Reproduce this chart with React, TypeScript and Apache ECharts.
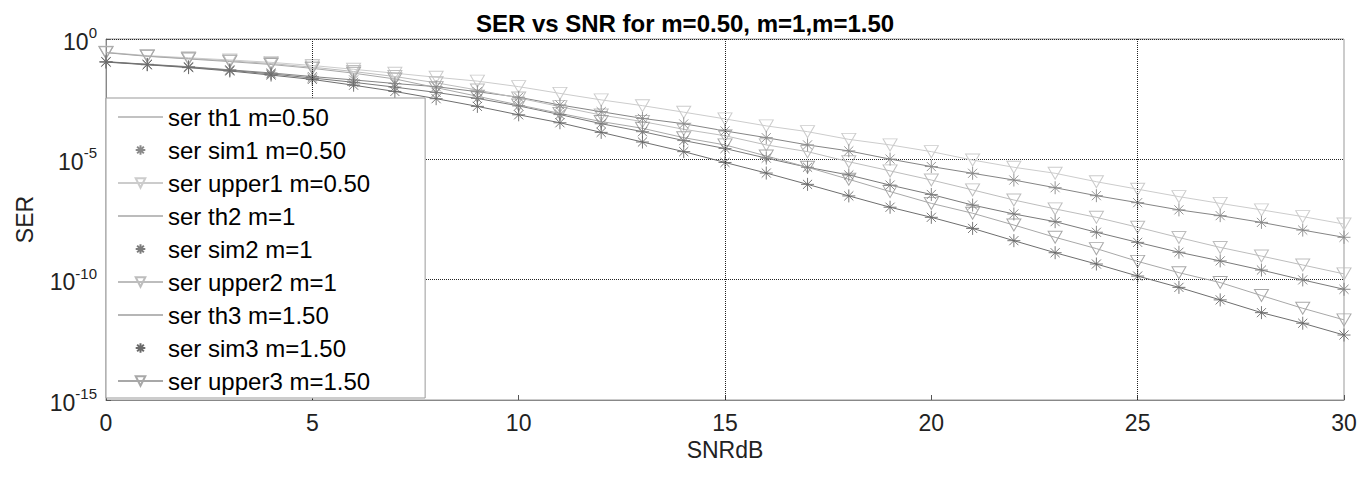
import React, { useEffect, useRef } from "react";
import * as echarts from "echarts";

const snrDb = [0, 1, 2, 3, 4, 5, 6, 7, 8, 9, 10, 11, 12, 13, 14, 15, 16, 17, 18, 19, 20, 21, 22, 23, 24, 25, 26, 27, 28, 29, 30];

// log10(SER)
const th1Log = [-0.94, -1.05, -1.15, -1.28, -1.41, -1.56, -1.7, -1.85, -1.98, -2.19, -2.42, -2.74, -3.02, -3.3, -3.52, -3.82, -4.1, -4.4, -4.65, -4.99, -5.3, -5.58, -5.86, -6.18, -6.51, -6.8, -7.1, -7.34, -7.62, -7.94, -8.24];
const sim1Log = [-0.94, -1.05, -1.15, -1.28, -1.41, -1.56, -1.7, -1.85, -1.98, -2.19, -2.42, -2.74, -3.02, -3.3, -3.53, -3.82, -4.1, -4.4, -4.65, -4.99, -5.3, -5.58, -5.86, -6.18, -6.51, -6.8, -7.1, -7.34, -7.62, -7.94, -8.24];
const upper1Log = [-0.55, -0.69, -0.78, -0.87, -0.97, -1.1, -1.26, -1.42, -1.59, -1.75, -1.98, -2.26, -2.53, -2.77, -3.04, -3.32, -3.61, -3.85, -4.17, -4.4, -4.68, -5.03, -5.33, -5.58, -5.93, -6.24, -6.55, -6.83, -7.1, -7.38, -7.69];
const th2Log = [-0.95, -1.06, -1.17, -1.3, -1.45, -1.62, -1.8, -2.0, -2.22, -2.47, -2.78, -3.14, -3.52, -3.85, -4.22, -4.55, -4.95, -5.33, -5.65, -6.07, -6.46, -6.9, -7.27, -7.59, -8.03, -8.45, -8.86, -9.22, -9.6, -10.01, -10.4];
const sim2Log = [-0.95, -1.06, -1.17, -1.3, -1.45, -1.62, -1.8, -2.0, -2.22, -2.47, -2.78, -3.14, -3.52, -3.85, -4.22, -4.55, -4.95, -5.33, -5.65, -6.07, -6.46, -6.9, -7.27, -7.59, -8.03, -8.45, -8.86, -9.22, -9.6, -10.01, -10.4];
const upper2Log = [-0.56, -0.71, -0.81, -0.91, -1.02, -1.17, -1.35, -1.56, -1.82, -2.12, -2.45, -2.81, -3.16, -3.43, -3.75, -4.02, -4.4, -4.68, -5.1, -5.48, -5.86, -6.27, -6.69, -7.06, -7.41, -7.82, -8.25, -8.66, -9.02, -9.39, -9.76];
const th3Log = [-0.96, -1.07, -1.19, -1.33, -1.5, -1.68, -1.92, -2.18, -2.48, -2.8, -3.15, -3.48, -3.88, -4.28, -4.68, -5.13, -5.57, -6.04, -6.52, -6.99, -7.41, -7.87, -8.38, -8.88, -9.35, -9.85, -10.32, -10.84, -11.37, -11.81, -12.3];
const sim3Log = [-0.96, -1.07, -1.19, -1.33, -1.5, -1.68, -1.92, -2.18, -2.48, -2.8, -3.15, -3.48, -3.88, -4.28, -4.68, -5.13, -5.57, -6.04, -6.52, -6.99, -7.41, -7.87, -8.38, -8.88, -9.35, -9.85, -10.32, -10.84, -11.37, -11.81, -12.3];
const upper3Log = [-0.57, -0.72, -0.83, -0.94, -1.06, -1.22, -1.42, -1.66, -2.02, -2.38, -2.74, -3.09, -3.43, -3.71, -4.1, -4.4, -4.86, -5.33, -5.83, -6.34, -6.83, -7.24, -7.73, -8.24, -8.71, -9.24, -9.71, -10.12, -10.66, -11.19, -11.67];

const seriesNames = [
  "ser th1 m=0.50", "ser sim1 m=0.50", "ser upper1 m=0.50",
  "ser th2 m=1", "ser sim2 m=1", "ser upper2 m=1",
  "ser th3 m=1.50", "ser sim3 m=1.50", "ser upper3 m=1.50",
];
const verticalGridX = [5, 15, 25];
const xTicks = { min: 0, max: 30, interval: 5 };

const STAR = "path://M10,0L10,20M0,10L20,10M3,3L17,17M3,17L17,3";
const TRI = "path://M0,0L20,0L10,17Z";
const LINE_ICON = "path://M0,0L45,0L45,1.2L0,1.2Z";
const FONT = "Liberation Sans, Arial, sans-serif";

const toPts = (logs: number[]) => snrDb.map((x, i) => [x, Math.pow(10, logs[i])]);

export default function App() {
  const ref = useRef<HTMLDivElement>(null);
  useEffect(() => {
    if (!ref.current) return;
    const chart = echarts.init(ref.current, undefined, { renderer: "svg" });
    const thLine = (name: string, logs: number[], color: string, extra: any = {}) => ({
      name, type: "line", data: toPts(logs), symbol: "none", z: 3,
      lineStyle: { color, width: 1 }, itemStyle: { color }, ...extra,
    });
    const simSeries = (name: string, logs: number[], color: string) => ({
      name, type: "line", data: toPts(logs), symbol: STAR, symbolSize: 13, showSymbol: true, z: 4,
      lineStyle: { color, width: 0, opacity: 0 },
      itemStyle: { color: "rgba(0,0,0,0)", borderColor: color, borderWidth: 0.9 },
    });
    const upperSeries = (name: string, logs: number[], color: string) => ({
      name, type: "line", data: toPts(logs), symbol: TRI, symbolSize: [14, 12], showSymbol: true, z: 3,
      lineStyle: { color, width: 1 },
      itemStyle: { color: "rgba(0,0,0,0)", borderColor: color, borderWidth: 1 },
    });
    const legendData = seriesNames.map((n, i) => (i % 3 === 0 ? { name: n, icon: LINE_ICON } : { name: n }));
    chart.setOption({
      animation: false,
      backgroundColor: "#fff",
      title: {
        text: "SER vs SNR for m=0.50, m=1,m=1.50",
        left: 680, top: 6, textAlign: "center",
        textStyle: { fontFamily: FONT, fontSize: 24, fontWeight: "bold", color: "#000" },
      },
      grid: { left: 106, right: 28, top: 39, bottom: 77, show: true, borderColor: "#999", borderWidth: 1, backgroundColor: "rgba(0,0,0,0)" },
      legend: {
        orient: "vertical", left: 106, top: 98,
        itemWidth: 45, itemHeight: 12, itemGap: 9,
        padding: [7, 55, 5, 11],
        backgroundColor: "#fff", borderColor: "#999", borderWidth: 1,
        data: legendData,
        textStyle: { fontFamily: FONT, fontSize: 24, color: "#000", lineHeight: 24 },
        z: 10,
      },
      xAxis: {
        type: "value", min: xTicks.min, max: xTicks.max, interval: xTicks.interval,
        name: "SNRdB", nameLocation: "middle", nameGap: 37,
        nameTextStyle: { fontFamily: FONT, fontSize: 23, color: "#222" },
        axisLine: { show: true, lineStyle: { color: "#888" } },
        axisTick: { show: true, inside: true, length: 5, lineStyle: { color: "#555" } },
        axisLabel: { fontFamily: FONT, fontSize: 23, color: "#222", margin: 11 },
        splitLine: { show: false },
      },
      yAxis: {
        type: "log", logBase: 10, min: 1e-15, max: 1, interval: 5,
        name: "SER", nameLocation: "middle", nameGap: 70, nameRotate: 90,
        nameTextStyle: { fontFamily: FONT, fontSize: 23, color: "#222" },
        axisLine: { show: true, lineStyle: { color: "#888" } },
        axisTick: { show: true, inside: true, length: 5, lineStyle: { color: "#555" } },
        axisLabel: {
          margin: 9,
          formatter: (v: number) => "{a|10}{b|" + Math.round(Math.log10(v)) + "}",
          rich: {
            a: { fontFamily: FONT, fontSize: 23, color: "#222", lineHeight: 28, verticalAlign: "bottom" },
            b: { fontFamily: FONT, fontSize: 15, color: "#222", lineHeight: 15, verticalAlign: "top" },
          },
        },
        splitLine: { show: true, lineStyle: { color: "#222", type: "dotted", width: 1 } },
      },
      series: [
        thLine(seriesNames[0], th1Log, "#858585", {
          markLine: {
            silent: true, symbol: "none", label: { show: false },
            lineStyle: { color: "#222", type: "dotted", width: 1 },
            data: verticalGridX.map((x) => ({ xAxis: x })),
          },
        }),
        simSeries(seriesNames[1], sim1Log, "#8a8a8a"),
        upperSeries(seriesNames[2], upper1Log, "#cccccc"),
        thLine(seriesNames[3], th2Log, "#7a7a7a"),
        simSeries(seriesNames[4], sim2Log, "#7c7c7c"),
        upperSeries(seriesNames[5], upper2Log, "#bdbdbd"),
        thLine(seriesNames[6], th3Log, "#6e6e6e"),
        simSeries(seriesNames[7], sim3Log, "#6a6a6a"),
        upperSeries(seriesNames[8], upper3Log, "#a8a8a8"),
      ],
    });
    return () => chart.dispose();
  }, []);
  return <div ref={ref} style={{ width: 1372, height: 477, margin: -8 }} />;
}
